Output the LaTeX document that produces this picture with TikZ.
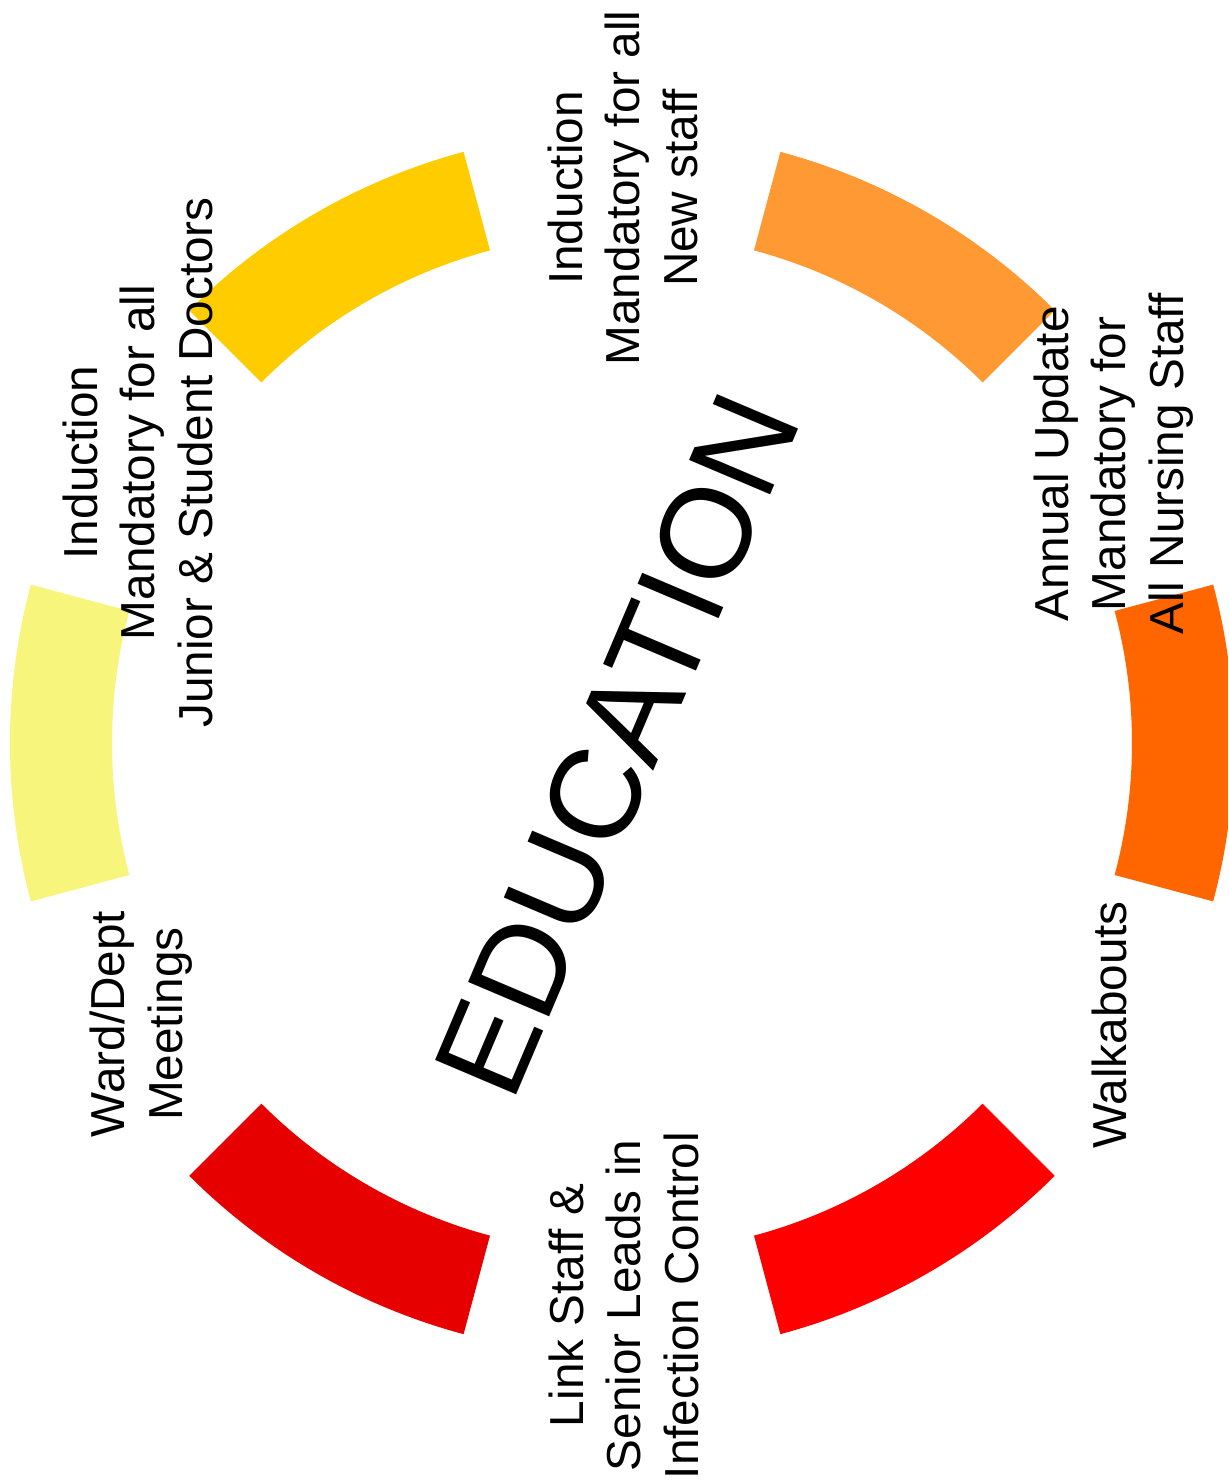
\documentclass[tikz,border=0pt]{standalone}
\usepackage{fontspec}
\setmainfont{Liberation Sans}
\definecolor{segR}{RGB}{255,102,0}
\definecolor{segTR}{RGB}{255,153,51}
\definecolor{segTL}{RGB}{255,204,0}
\definecolor{segL}{RGB}{247,245,123}
\definecolor{segBL}{RGB}{230,0,0}
\definecolor{segBR}{RGB}{255,0,0}
\newcommand\ringseg[3]{\fill[#1] (#2:612) arc[start angle=#2,end angle=#3,radius=612] -- (#3:510) arc[start angle=#3,end angle=#2,radius=510] -- cycle;}
\begin{document}
\begin{tikzpicture}[x=0.5pt,y=0.5pt,
  lbl/.style={rotate=90, align=center, inner sep=0pt, font=\fontsize{23.85pt}{28.75pt}\selectfont},
  title/.style={rotate=67, inner sep=0pt, font=\fontsize{64pt}{76pt}\selectfont}]
\useasboundingbox (-622,-737) rectangle (606,743);
\clip (-622,-737) rectangle (606,743);
\ringseg{segR}{-15}{15}
\ringseg{segTR}{45}{75}
\ringseg{segTL}{105}{135}
\ringseg{segL}{165}{195}
\ringseg{segBL}{225}{255}
\ringseg{segBR}{285}{315}
\node[lbl] (top) at (0.6,555) {Induction\\Mandatory for all\\New staff};
\node[lbl] (tr) at (491.6,279) {Annual Update\\Mandatory for\\All Nursing Staff};
\node[lbl] (br) at (487.6,-282) {Walkabouts};
\node[lbl] (bot) at (1.6,-562.5) {Link Staff \&\\Senior Leads in\\Infection Control};
\node[lbl] (bl) at (-480.6,-281) {Ward/Dept\\Meetings};
\node[lbl] (tl) at (-484.4,280.5) {Induction\\Mandatory for all\\Junior \& Student Doctors};
\node[title] (edu) at (-5,-2) {EDUCATION};
\end{tikzpicture}
\end{document}
